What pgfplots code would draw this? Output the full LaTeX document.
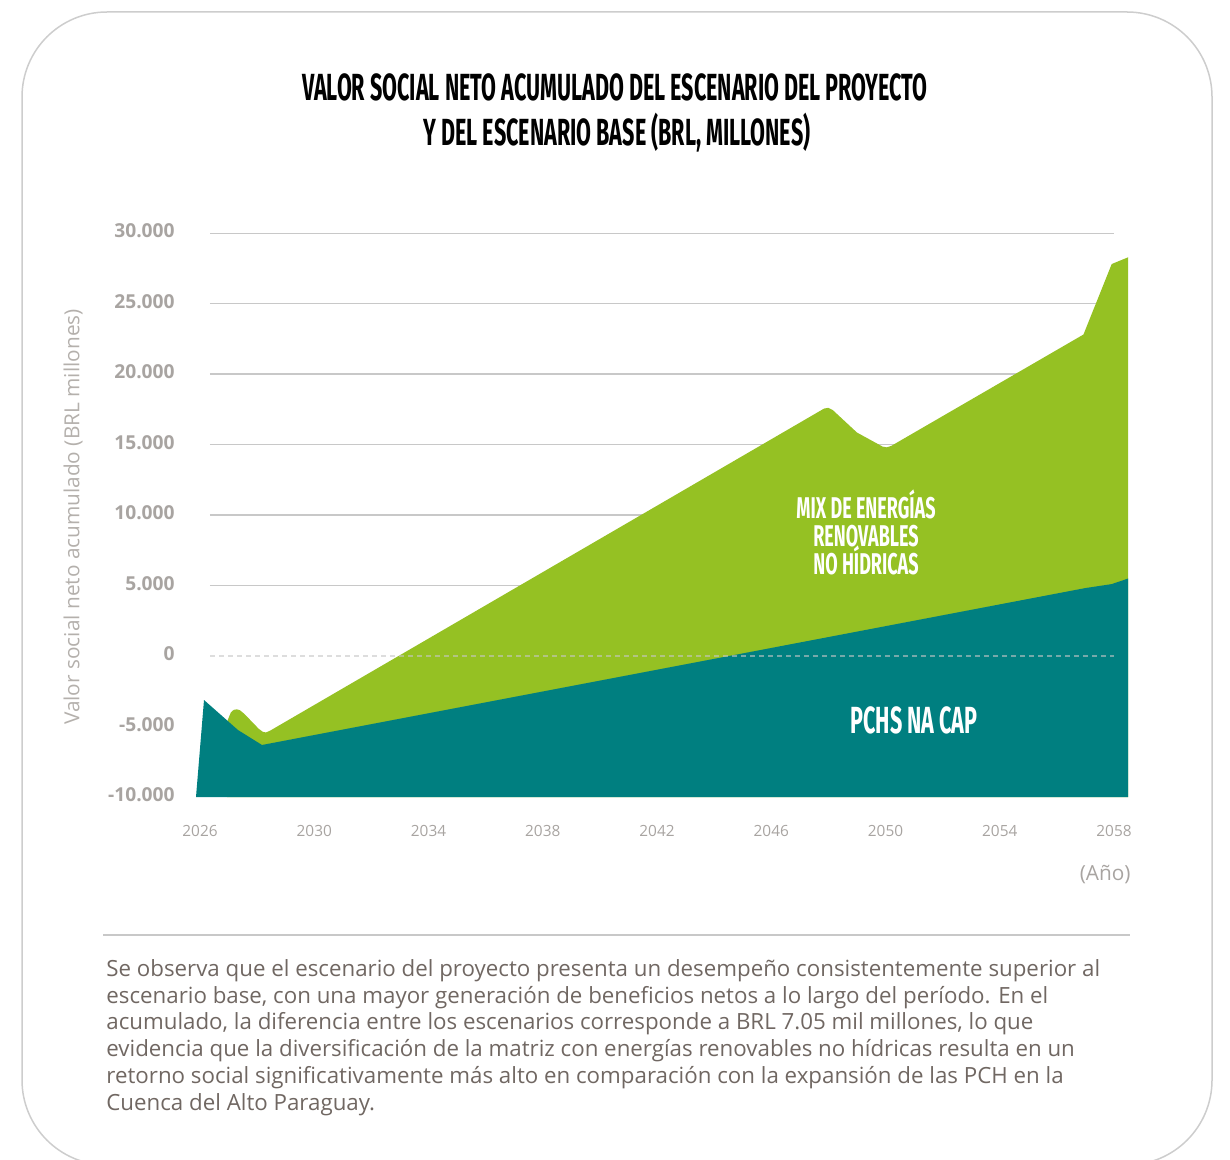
\documentclass[border=0pt]{standalone}
\usepackage{pgfplots}
\pgfplotsset{compat=1.18}
\usepackage{fontspec}
\setmainfont{Open Sans}
\newfontfamily\condfont[FakeStretch=0.57]{Fira Sans}
\newfontfamily\condfontb[FakeStretch=0.6]{Fira Sans}
\definecolor{vgreen}{RGB}{149,193,35}
\definecolor{vteal}{RGB}{0,127,128}
\definecolor{tickgray}{RGB}{168,164,161}
\definecolor{labgray}{RGB}{180,176,172}
\definecolor{bodytext}{RGB}{112,103,98}
\definecolor{gridgray}{RGB}{200,200,200}
\definecolor{framegray}{RGB}{205,205,205}
\begin{document}
\begin{tikzpicture}
\begin{scope}[x=0.5pt,y=-0.5pt]
\useasboundingbox (0,0) rectangle (1230,1160);
\begin{scope}
\clip (0,0) rectangle (1230,1160);
\draw[framegray, line width=0.75pt, rounded corners=42.5pt] (22,12) rectangle (1212,1165);
\end{scope}
% title
\node[font=\condfont\bfseries\fontsize{18.9}{22.5}\selectfont, anchor=base, inner sep=0pt] at (615,101) {VALOR SOCIAL NETO ACUMULADO DEL ESCENARIO DEL PROYECTO};
\node[font=\condfont\bfseries\fontsize{18.9}{22.5}\selectfont, anchor=base, inner sep=0pt] at (617,146) {Y DEL ESCENARIO BASE (BRL, MILLONES)};
% y label
\node[rotate=90, font=\fontsize{10.4}{12}\selectfont, text=labgray, inner sep=0pt] at (73,517) {Valor social neto acumulado (BRL millones)};
\end{scope}
\begin{axis}[
  at={(98pt,-398.5pt)}, anchor=south west,
  scale only axis, width=466pt, height=282pt,
  xmin=2025.86, xmax=2058.49, ymin=-10000, ymax=30000,
  scaled y ticks=false, scaled x ticks=false,
  axis line style={draw=none}, major tick length=0pt,
  xtick={2026,2030,2034,2038,2042,2046,2050,2054,2058},
  xticklabels={2026,2030,2034,2038,2042,2046,2050,2054,2058},
  ytick={-10000,-5000,0,5000,10000,15000,20000,25000,30000},
  yticklabels={-10.000,-5.000,0,5.000,10.000,15.000,20.000,25.000,30.000},
  yticklabel style={font=\bfseries\fontsize{9.6}{11}\selectfont, text=tickgray, inner sep=0pt, xshift=-10.5pt, yshift=1pt},
  xticklabel style={font=\fontsize{7.7}{9}\selectfont, text=tickgray, inner sep=0pt, anchor=north, yshift=-13.75pt},
]
% grid lines
\addplot[gridgray, line width=0.6pt] coordinates {(2026.35,30000)(2058,30000)};
\addplot[gridgray, line width=0.6pt] coordinates {(2026.35,25000)(2058,25000)};
\addplot[gridgray, line width=0.6pt] coordinates {(2026.35,20000)(2058,20000)};
\addplot[gridgray, line width=0.6pt] coordinates {(2026.35,15000)(2058,15000)};
\addplot[gridgray, line width=0.6pt] coordinates {(2026.35,10000)(2058,10000)};
\addplot[gridgray, line width=0.6pt] coordinates {(2026.35,5000)(2058,5000)};
% project scenario (mix de energías renovables no hídricas)
\addplot[fill=vgreen, draw=none] coordinates {
  (2026.95,-10000) (2026.95,-4650) (2027.08,-4000) (2027.18,-3820) (2027.29,-3780)
  (2027.40,-3850) (2027.55,-4100) (2028.05,-5150) (2028.2,-5380) (2028.31,-5420)
  (2028.45,-5300) (2047.85,17550) (2048.0,17600) (2048.15,17450) (2049.0,15850) (2049.9,14850) (2050.04,14800)
  (2050.2,14900) (2056.93,22800) (2057.92,27800) (2058.52,28300) (2058.52,-10000)};
% base scenario (PCHs na CAP)
\addplot[fill=vteal, draw=none] coordinates {
  (2025.86,-10000) (2026.14,-3120) (2027.33,-5250) (2028.17,-6310)
  (2045.61,420) (2057.0,4820) (2057.92,5100) (2058.5,5500) (2058.5,-10000)};
% zero line
\addplot[gray!45, line width=0.6pt, dash pattern=on 2.5pt off 2pt, opacity=0.6] coordinates {(2026.35,0)(2058,0)};
\end{axis}
\begin{scope}[x=0.5pt,y=-0.5pt]
% area labels
\node[font=\condfontb\bfseries\fontsize{15}{15}\selectfont, text=white, anchor=base, inner sep=0pt] at (866,518) {MIX DE ENERGÍAS};
\node[font=\condfontb\bfseries\fontsize{15}{15}\selectfont, text=white, anchor=base, inner sep=0pt] at (866,546) {RENOVABLES};
\node[font=\condfontb\bfseries\fontsize{15}{15}\selectfont, text=white, anchor=base, inner sep=0pt] at (866,574) {NO HÍDRICAS};
\node[font=\condfont\bfseries\fontsize{18.9}{20}\selectfont, text=white, anchor=base, inner sep=0pt] at (914,733) {PCHS NA CAP};
% (Año)
\node[font=\fontsize{10.4}{12}\selectfont, text=tickgray, anchor=east, inner sep=0pt] at (1131,875) {(Año)};
% separator
\draw[gridgray, line width=0.6pt] (103,935) -- (1130,935);
% body text
\node[anchor=north west, inner sep=0pt, align=left, font=\fontsize{11.15}{13.4}\selectfont, text=bodytext] at (106,959) {Se observa que el escenario del proyecto presenta un desempeño consistentemente superior al\\
escenario base, con una mayor generación de beneficios netos a lo largo del período. En el\\
acumulado, la diferencia entre los escenarios corresponde a BRL 7.05 mil millones, lo que\\
evidencia que la diversificación de la matriz con energías renovables no hídricas resulta en un\\
retorno social significativamente más alto en comparación con la expansión de las PCH en la\\
Cuenca del Alto Paraguay.};
\end{scope}
\end{tikzpicture}
\end{document}
